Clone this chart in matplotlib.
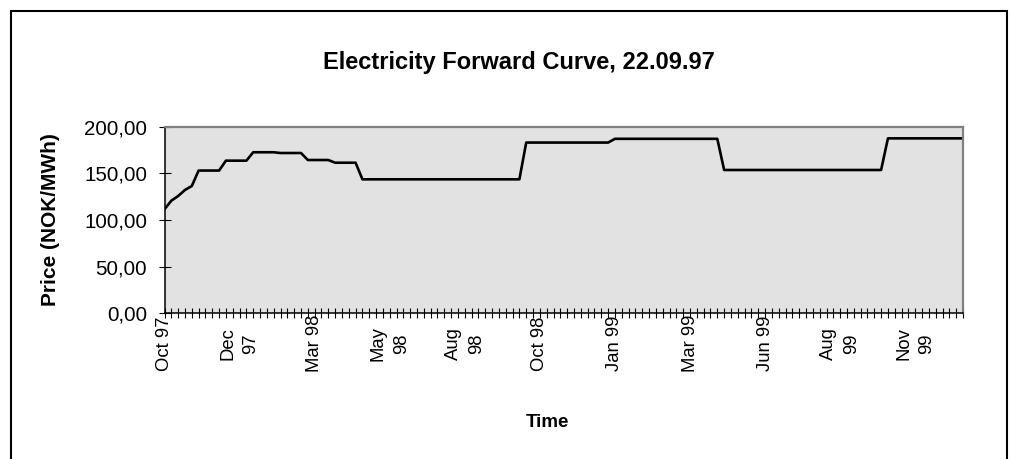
import numpy as np
import matplotlib.pyplot as plt
from matplotlib.patches import Rectangle
from matplotlib.ticker import FuncFormatter

plt.rcParams['font.family'] = ['Liberation Sans', 'DejaVu Sans']

# Forward prices in NOK/MWh: single weeks, then 4-week blocks, then seasons
week_prices = [111.5, 120.7, 125.7, 132.2, 136.4]
block_prices = [153.0, 163.6, 172.6, 171.8, 164.3, 161.4]
block_weeks = [4, 4, 4, 4, 4, 4]
season_prices = [143.6, 183.0, 187.0, 153.6, 187.5]
season_weeks = [24, 13, 16, 24, 12]

# one label every 11 weekly categories
tick_labels = ["Oct 97", "Dec\n97", "Mar 98", "May\n98", "Aug\n98", "Oct 98",
               "Jan 99", "Mar 99", "Jun 99", "Aug\n99", "Nov\n99"]
label_step = 11

prices = np.concatenate([week_prices,
                         np.repeat(block_prices, block_weeks),
                         np.repeat(season_prices, season_weeks)])
weeks = np.arange(len(prices))

W, H = 1012, 459
fig = plt.figure(figsize=(W / 100, H / 100), dpi=100)
ax = fig.add_axes([164.5 / W, 1 - 313.3 / H, 798.5 / W, 186.6 / H])
ax.set_facecolor('#e2e2e2')

ax.plot(weeks, prices, color='black', lw=1.9)
ax.set_xlim(0, len(prices) - 1)
ax.set_ylim(0, 200)

ax.set_yticks(np.arange(0, 201, 50))
ax.yaxis.set_major_formatter(FuncFormatter(lambda v, pos: f'{v:.2f}'.replace('.', ',')))
ax.tick_params(axis='y', direction='inout', length=8, width=0.8, pad=8.5,
               labelsize=14.8, colors='black')

ax.set_xticks(weeks, minor=True)
ax.set_xticks(weeks[::label_step], tick_labels)
ax.tick_params(axis='x', which='both', direction='inout', length=6.5, width=0.8,
               colors='black')
ax.tick_params(axis='x', which='major', pad=18.5, labelsize=13.3)
for lbl in ax.get_xticklabels():
    lbl.set_rotation(90)
    lbl.set_va('center')
    lbl.set_ha('center')
    lbl.set_multialignment('center')
    lbl.set_linespacing(1.45)

for side in ['top', 'right']:
    ax.spines[side].set_color('#808080')
    ax.spines[side].set_linewidth(1.6)
for side in ['left', 'bottom']:
    ax.spines[side].set_color('black')
    ax.spines[side].set_linewidth(1.1)

ax.set_ylabel('Price (NOK/MWh)', fontsize=15, fontweight='bold')
ax.yaxis.set_label_coords((60 - 164.5) / 798.5, 0.505)
ax.set_xlabel('Time', fontsize=13.5, fontweight='bold')
ax.xaxis.set_label_coords((547 - 164.5) / 798.5, (313.3 - 414) / 186.6)

fig.text(519 / W, 1 - 62 / H, 'Electricity Forward Curve, 22.09.97',
         ha='center', va='center', fontsize=17, fontweight='bold')

# chart frame
fig.add_artist(Rectangle((11 / W, -0.05), 996 / W, 1.05 - 11 / H,
                         transform=fig.transFigure, fill=False,
                         ec='black', lw=1.5))

fig.savefig('out.png', dpi=100)
